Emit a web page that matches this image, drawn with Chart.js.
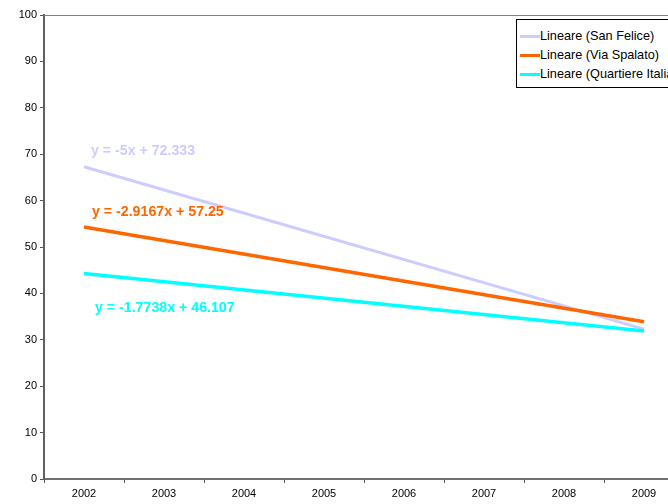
<!DOCTYPE html>
<html>
<head>
<meta charset="utf-8">
<script src="https://cdn.jsdelivr.net/npm/chart.js@4"></script>
<style>
  html, body { margin: 0; padding: 0; background: #fff; overflow: hidden; }
  #wrap { position: relative; width: 668px; height: 504px; overflow: hidden; }
  #box { position: absolute; left: 0; top: 0; width: 700px; height: 504px; }
  #legend {
    position: absolute; left: 516px; top: 19px; width: 170px; height: 67px;
    border: 1px solid #000; background: #fff;
    font: 12.7px "Liberation Sans", Arial, sans-serif; color: #000;
  }
  #legend div { position: relative; height: 19px; line-height: 19px; padding-left: 23px; white-space: nowrap; }
  #legend div:first-child { margin-top: 7px; }
  #legend span { position: absolute; left: 3px; top: 8px; width: 20px; height: 3px; }
</style>
</head>
<body>
<div id="wrap">
  <div id="box"><canvas id="trendChart" width="700" height="504"></canvas></div>
  <div id="legend"></div>
</div>
<script>
const years = ["2002", "2003", "2004", "2005", "2006", "2007", "2008", "2009"];
const yTicks = [0, 10, 20, 30, 40, 50, 60, 70, 80, 90, 100];

// trend lines: only the two ends
const sanFelice = [67.3, null, null, null, null, null, null, 32.3];
const viaSpalato = [54.3, null, null, null, null, null, null, 33.9];
const quartiere = [44.3, null, null, null, null, null, null, 31.9];

const seriesNames = ["Lineare (San Felice)", "Lineare (Via Spalato)", "Lineare (Quartiere Italia)"];
const equations = ["y = -5x + 72.333", "y = -2.9167x + 57.25", "y = -1.7738x + 46.107"];
const eqLevels = [70.7, 57.5, 36.9];
const colors = ["#ccccff", "#ff6600", "#00ffff"];

const ctx = document.getElementById("trendChart").getContext("2d");

// equation text + top border of the plot area
const extras = {
  id: "extras",
  afterDraw(chart) {
    const c = chart.ctx, a = chart.chartArea;
    const x = chart.scales.x, y = chart.scales.y;
    c.save();
    c.strokeStyle = "#808080";
    c.lineWidth = 1;
    c.beginPath();
    c.moveTo(a.left, a.top + 0.5);
    c.lineTo(a.right, a.top + 0.5);
    c.stroke();

    c.font = "bold 14.2px 'Liberation Sans', Arial, sans-serif";
    c.textBaseline = "middle";
    const shifts = [7, 8, 11];
    equations.forEach((t, i) => {
      c.fillStyle = colors[i];
      c.fillText(t, x.getPixelForValue(0) + shifts[i], y.getPixelForValue(eqLevels[i]));
    });
    c.restore();
  }
};

new Chart(ctx, {
  type: "line",
  data: {
    labels: years,
    datasets: [
      { label: seriesNames[0], data: sanFelice, borderColor: colors[0], borderWidth: 3, order: 3 },
      { label: seriesNames[1], data: viaSpalato, borderColor: colors[1], borderWidth: 3.5, order: 1 },
      { label: seriesNames[2], data: quartiere, borderColor: colors[2], borderWidth: 3.5, order: 2 }
    ].map(ds => Object.assign(ds, { pointRadius: 0, spanGaps: true, fill: false, tension: 0 }))
  },
  options: {
    responsive: false,
    animation: false,
    layout: { padding: { top: 15, right: 16, left: 0, bottom: 0 } },
    plugins: { legend: { display: false }, tooltip: { enabled: false } },
    scales: {
      x: {
        offset: true,
        grid: { offset: true, drawOnChartArea: false, tickLength: 4, color: "#555", lineWidth: 1 },
        border: { color: "#707070", width: 2 },
        ticks: { color: "#000", font: { family: "'Liberation Sans', Arial", size: 11 }, padding: 4, maxRotation: 0 },
        afterFit(s) { s.height = 25; }
      },
      y: {
        min: 0, max: 100,
        afterBuildTicks(s) { s.ticks = yTicks.map(v => ({ value: v })); },
        grid: { drawOnChartArea: false, tickLength: 4, color: "#555" },
        border: { color: "#606060", width: 2 },
        ticks: { color: "#000", font: { family: "'Liberation Sans', Arial", size: 11 }, padding: 3 },
        afterFit(s) { s.width = 44; }
      }
    }
  },
  plugins: [extras]
});

document.getElementById("legend").innerHTML = seriesNames
  .map((n, i) => `<div><span style="background:${colors[i]}"></span>${n}</div>`).join("");
</script>
</body>
</html>
